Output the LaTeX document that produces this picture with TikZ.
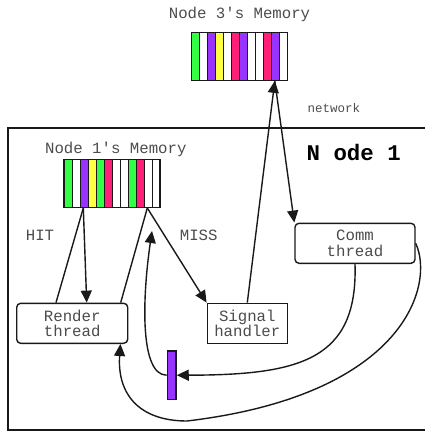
\documentclass[tikz,border=0pt]{standalone}
\usepackage{fontspec}
\setmonofont{Liberation Mono}
\usepackage{tikz}
\usetikzlibrary{shapes,arrows,arrows.meta,positioning,calc}
\definecolor{memgreen}{RGB}{51,255,68}
\definecolor{mempurple}{RGB}{153,51,255}
\definecolor{memyellow}{RGB}{255,255,68}
\definecolor{mempink}{RGB}{255,30,120}
\definecolor{ink}{RGB}{25,25,25}
\newcommand{\labelfont}{\ttfamily\fontsize{15.7}{15.5}\selectfont}
\tikzstyle{memory} = [draw=ink, line width=1.4pt, rectangle,
    minimum width=96pt, minimum height=48pt, inner sep=0pt]
\tikzstyle{cell} = [draw=ink, line width=1pt]
\tikzstyle{threadbox} = [draw=ink, fill=white, line width=1.4pt, rectangle,
    rounded corners=4pt, minimum height=40pt, inner sep=0pt,
    align=center, text=black!70, font=\labelfont]
\tikzstyle{handlerbox} = [threadbox, sharp corners]
\tikzstyle{tag} = [inner sep=0pt, anchor=base, text=black!70, font=\labelfont]
\tikzstyle{link} = [draw=ink, line width=1.4pt]
\tikzstyle{flow} = [link, -{Triangle[length=12pt,width=11pt]}]

\begin{document}
\begin{tikzpicture}[x=1pt,y=-1pt]
\useasboundingbox (0,0) rectangle (425,431);
\clip (0,0) rectangle (425,431);
% node 1 frame
\draw[link] (8,128) rectangle (440,430);

% memories
\foreach \c [count=\i from 0] in {memgreen,white,mempurple,memyellow,white,mempink,mempurple,white,white,mempink,mempurple,white}
    \draw[cell, fill=\c] (191.5+8*\i,32.3) rectangle ++(8,47.7);
\node[memory] (mem3) at (239.5,56.2) {};
\foreach \c [count=\i from 0] in {memgreen,white,mempurple,memyellow,memgreen,mempink,white,white,memgreen,mempink,white,white}
    \draw[cell, fill=\c] (64+8*\i,159.3) rectangle ++(8,48);
\node[memory] (mem1) at (112,183.3) {};

\node[tag] (mem3name) at (239.5,18.5) {Node 3's Memory};
\node[tag] (mem1name) at (115.8,153.3) {Node 1's Memory};
\node[tag, font=\ttfamily\fontsize{12.5}{14}\selectfont] (net) at (334,112) {network};
\node[tag, text=black, font=\ttfamily\bfseries\fontsize{22.4}{24}\selectfont] (title) at (353.7,160) {N ode 1};
\node[tag] (hit) at (40,240.7) {HIT};
\node[tag] (miss) at (198.7,240.7) {MISS};

% threads
\node[threadbox, minimum width=111pt] (render) at (72.2,323.3) {Render\\thread};
\node[handlerbox, minimum width=80pt] (signal) at (247.3,323.3) {Signal\\handler};
\node[threadbox, minimum width=120pt] (comm) at (355,243.3) {Comm\\thread};
\node[draw=ink, fill=mempurple, line width=1.4pt, rectangle, inner sep=0pt,
    minimum width=8.7pt, minimum height=48.3pt] (flag) at (171.7,375.2) {};

\coordinate (back) at (152,231);
\coordinate (dip) at (187,421);

\draw[link] ([xshift=20pt]mem1.south west) -- ([xshift=40pt]render.north west);
\draw[flow] ([xshift=20pt]mem1.south west) -- ([xshift=70.7pt]render.north west);
\draw[link] ([xshift=84pt]mem1.south west) -- ([xshift=-7.7pt]render.north east);
\draw[flow] ([xshift=84pt]mem1.south west) -- (signal.north west);
\draw[flow] (signal.north) -- ([xshift=84pt]mem3.south west);
\draw[flow] ([xshift=84pt]mem3.south west) -- (comm.north west);
\draw[flow] (comm.south) .. controls (358,360) and (300,375) .. (flag.east);
\draw[flow] (flag.west) .. controls (140,375) and (142,300) .. (back);
\draw[flow] (comm.east) .. controls (435,285) and (405,395) .. (dip)
    .. controls (140,421) and (117,395) .. ([xshift=-8pt]render.south east);
\end{tikzpicture}
\end{document}
